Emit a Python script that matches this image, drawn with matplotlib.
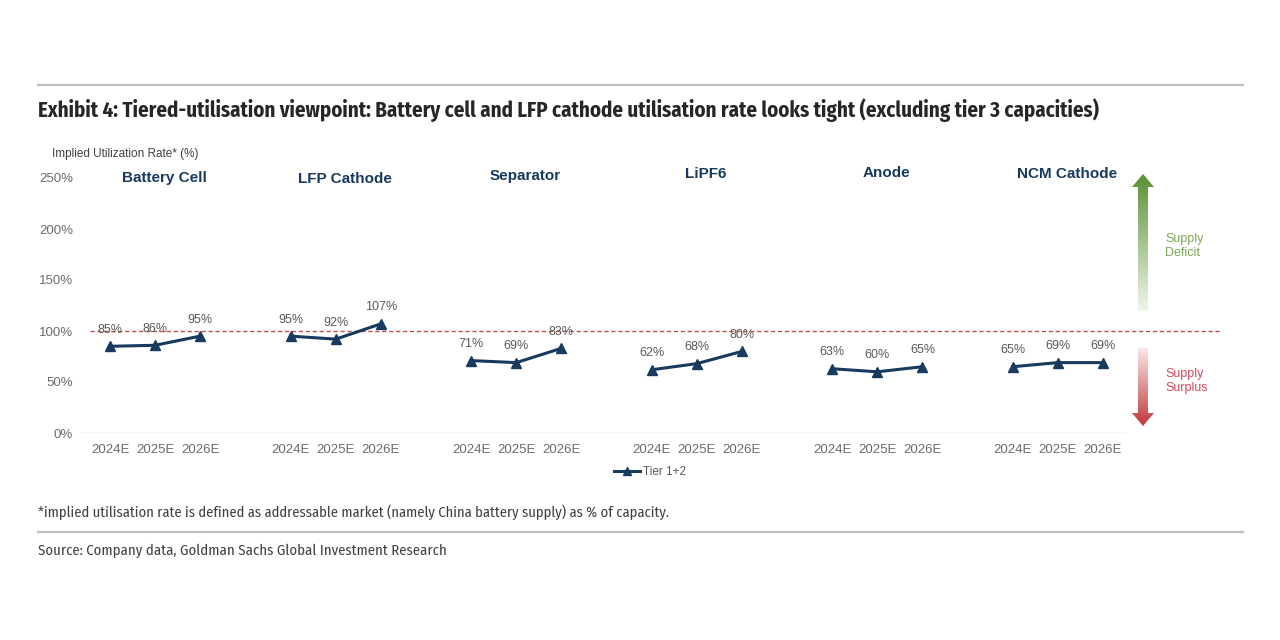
import numpy as np
import matplotlib
matplotlib.use("Agg")
import matplotlib.pyplot as plt
from matplotlib.patches import Polygon
from matplotlib.lines import Line2D

plt.rcParams['font.family'] = ['Liberation Sans', 'DejaVu Sans']

# --- data -------------------------------------------------------------
SEGMENTS = ["Battery Cell", "LFP Cathode", "Separator", "LiPF6", "Anode", "NCM Cathode"]
YEARS = ["2024E", "2025E", "2026E"]
BATTERY_CELL = [85, 86, 95]
LFP_CATHODE = [95, 92, 107]
SEPARATOR = [71, 69, 83]
LIPF6 = [62, 68, 80]
ANODE = [63, 60, 65]
NCM_CATHODE = [65, 69, 69]
SERIES = [BATTERY_CELL, LFP_CATHODE, SEPARATOR, LIPF6, ANODE, NCM_CATHODE]
YTICKS = [0, 50, 100, 150, 200, 250]
# small vertical nudges of the segment titles (as in the original)
SEG_TITLE_Y = [250, 249, 252, 254, 255, 254]

NAVY = "#173a5e"
GREY = "#595959"
W, H = 1280, 640

fig = plt.figure(figsize=(12.8, 6.4), dpi=100)

# main axes: 0% at y=433px, 250% at y=178px
ax_l, ax_r = 80, 1225
ax = fig.add_axes([ax_l / W, (H - 433) / H, (ax_r - ax_l) / W, 255 / H])
ax.patch.set_alpha(0)
px_per_unit = (1103 - 110) / 22
ax.set_xlim(-(110 - ax_l) / px_per_unit, 22 + (ax_r - 1103) / px_per_unit)
ax.set_ylim(0, 250)

xticks, xlabels = [], []
for g, (name, vals) in enumerate(zip(SEGMENTS, SERIES)):
    xs = np.arange(3) + 4 * g
    ax.plot(xs, vals, color=NAVY, lw=2.2, marker="^", ms=7, zorder=3)
    for x, v in zip(xs, vals):
        ax.annotate(f"{v}%", (x, v), xytext=(0, 7.5), textcoords="offset points",
                    ha="center", va="bottom", fontsize=9, color=GREY, zorder=4)
    ax.text(xs[1] + 0.2, SEG_TITLE_Y[g], name, ha="center", va="center",
            fontsize=11, fontweight="bold", color=NAVY)
    xticks.extend(xs)
    xlabels.extend(YEARS)

ax.axhline(100, xmin=(90 - ax_l) / (ax_r - ax_l), xmax=(1220 - ax_l) / (ax_r - ax_l),
           color="#c0504d", ls=(0, (3, 2)), lw=1)
ax.axhline(0, xmin=0, xmax=(1125 - ax_l) / (ax_r - ax_l), color="#d9d9d9", lw=1)

ax.set_xticks(xticks)
ax.set_xticklabels(xlabels)
ax.set_yticks(YTICKS)
ax.set_yticklabels([f"{t}%" for t in YTICKS])
ax.tick_params(length=0, labelsize=9.5, colors="#6b6b6b")
ax.tick_params(axis="x", pad=8)
ax.tick_params(axis="y", pad=5)
for s in ax.spines.values():
    s.set_visible(False)

leg = ax.legend([Line2D([], [], color=NAVY, lw=2.2, marker="^", ms=6)], ["Tier 1+2"],
                loc="center", bbox_to_anchor=(650 / W, 1 - 472 / H),
                bbox_transform=fig.transFigure, frameon=False, fontsize=8.5,
                handlelength=2.2, handletextpad=0.2)
for t in leg.get_texts():
    t.set_color(GREY)

# overlay axes in pixel coordinates for decorations
deco = fig.add_axes([0, 0, 1, 1], zorder=-1)
deco.axis("off")

deco.plot([38, 1243], [85, 85], color="#bfbfbf", lw=1.6)
deco.plot([38, 1243], [532, 532], color="#bfbfbf", lw=1.6)

narrow = ["Fira Sans Condensed", "DejaVu Sans"]
deco.text(38, 110, "Exhibit 4: Tiered-utilisation viewpoint: Battery cell and LFP cathode "
          "utilisation rate looks tight (excluding tier 3 capacities)",
          family=narrow, fontweight="bold", fontsize=15, color="#262626",
          ha="left", va="center")
deco.text(52, 154, "Implied Utilization Rate* (%)", fontsize=8.5, color="#404040",
          ha="left", va="center")
deco.text(38, 512, "*implied utilisation rate is defined as addressable market "
          "(namely China battery supply) as % of capacity.",
          family=narrow, fontsize=10.5, color="#404040", ha="left", va="center")
deco.text(38, 551, "Source: Company data, Goldman Sachs Global Investment Research",
          family=narrow, fontsize=10.6, color="#404040", ha="left", va="center")


def gradient_arrow(axis, cx, y_tip, y_tail, c_tip, c_tail):
    sw, hw, hh = 5, 11, 13
    d = 1 if y_tail > y_tip else -1
    yb = y_tip + d * hh
    pts = [(cx, y_tip), (cx + hw, yb), (cx + sw, yb), (cx + sw, y_tail),
           (cx - sw, y_tail), (cx - sw, yb), (cx - hw, yb)]
    poly = Polygon(pts, closed=True, fc="none", ec="none")
    axis.add_patch(poly)
    c1 = np.array(matplotlib.colors.to_rgb(c_tip))
    c2 = np.array(matplotlib.colors.to_rgb(c_tail))
    t = np.linspace(0, 1, 200)[:, None]
    grad = (c1 * (1 - t) + c2 * t)[:, None, :]
    y0, y1 = min(y_tip, y_tail), max(y_tip, y_tail)
    if y_tip > y_tail:
        grad = grad[::-1]
    # image row 0 at top (y0), rows run downwards in pixel coordinates
    im = axis.imshow(grad, extent=(cx - hw, cx + hw, y1, y0), origin="upper",
                     aspect="auto", interpolation="bilinear", zorder=2)
    im.set_clip_path(poly)


gradient_arrow(deco, 1143, 174, 311, "#5a9033", "#f0f6ea")
gradient_arrow(deco, 1143, 426, 348, "#c0393b", "#f9e6e6")
deco.set_xlim(0, W)
deco.set_ylim(H, 0)

deco.text(1165, 246, "Supply\nDeficit", color="#7fa654", fontsize=9,
          ha="left", va="center", linespacing=1.2)
deco.text(1165, 381, "Supply\nSurplus", color="#d1495b", fontsize=9,
          ha="left", va="center", linespacing=1.2)

fig.savefig("out.png", dpi=100, facecolor="white")
